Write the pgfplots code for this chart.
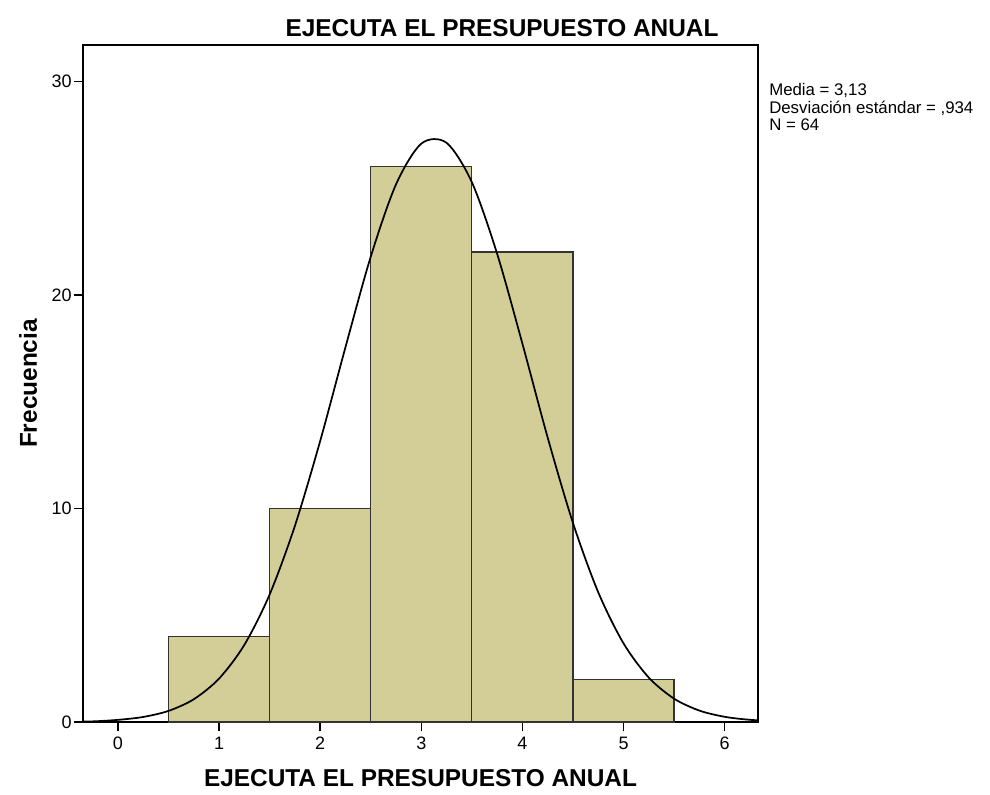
\documentclass[border=0pt]{standalone}
\usepackage{pgfplots}
\pgfplotsset{compat=1.18}
\usepackage{fontspec}
\setmainfont{Liberation Sans}
\definecolor{barfill}{HTML}{D3CE98}

\begin{document}
\begin{tikzpicture}
\useasboundingbox (-62.25pt,-54pt) rectangle (680.25pt,541.5pt);
\begin{axis}[
    at={(0,0)}, anchor=south west,
    scale only axis,
    width=506.25pt, height=507.75pt,
    xmin=-0.345, xmax=6.33,
    ymin=0, ymax=31.7,
    xtick={0,1,2,3,4,5,6},
    ytick={0,10,20,30},
    tick align=outside,
    xtick pos=bottom, ytick pos=left,
    major tick length=7pt,
    tick style={black, line width=1pt},
    axis line style={black, line width=1.1pt},
    ticklabel style={font=\fontsize{13.5}{15}\selectfont},
    /pgf/number format/assume math mode=true,
    xticklabel style={yshift=-1pt},
    yticklabel style={xshift=2pt},
    xlabel={\bfseries EJECUTA EL PRESUPUESTO ANUAL},
    ylabel={\bfseries Frecuencia},
    xlabel style={font=\fontsize{18.3}{20}\selectfont, yshift=-8pt},
    ylabel style={font=\fontsize{18.3}{20}\selectfont, yshift=4pt},
    clip=true,
]
\addplot[ybar interval, fill=barfill, draw=black!80, line width=1pt] coordinates {
    (0.5,4) (1.5,10) (2.5,26) (3.5,22) (4.5,2) (5.5,2)
};
\addplot[black, line width=1.3pt, smooth] coordinates {
    (-0.5,0.012) (-0.25,0.029) (0,0.100) (0.25,0.236) (0.5,0.519) (0.75,1.064)
    (1.0,2.030) (1.25,3.606) (1.5,5.963) (1.75,9.178) (2.0,13.15)
    (2.25,17.54) (2.5,21.78) (2.75,25.17) (3.0,27.08)
    (3.25,27.12) (3.5,25.28) (3.75,21.93) (4.0,17.72) (4.25,13.32)
    (4.5,9.324) (4.75,6.075) (5.0,3.684) (5.25,2.080) (5.5,1.093)
    (5.75,0.535) (6.0,0.244) (6.25,0.103) (6.5,0.041)
};
\end{axis}
\node[font=\fontsize{18.3}{20}\selectfont\bfseries] at (314.25pt,520.5pt) {EJECUTA EL PRESUPUESTO ANUAL};
\node[anchor=north west, align=left, inner sep=0pt, font=\fontsize{12.6}{13.2}\selectfont]
    at (514.5pt,479pt) {Media = 3,13\\Desviación estándar = ,934\\N = 64};
\end{tikzpicture}
\end{document}
